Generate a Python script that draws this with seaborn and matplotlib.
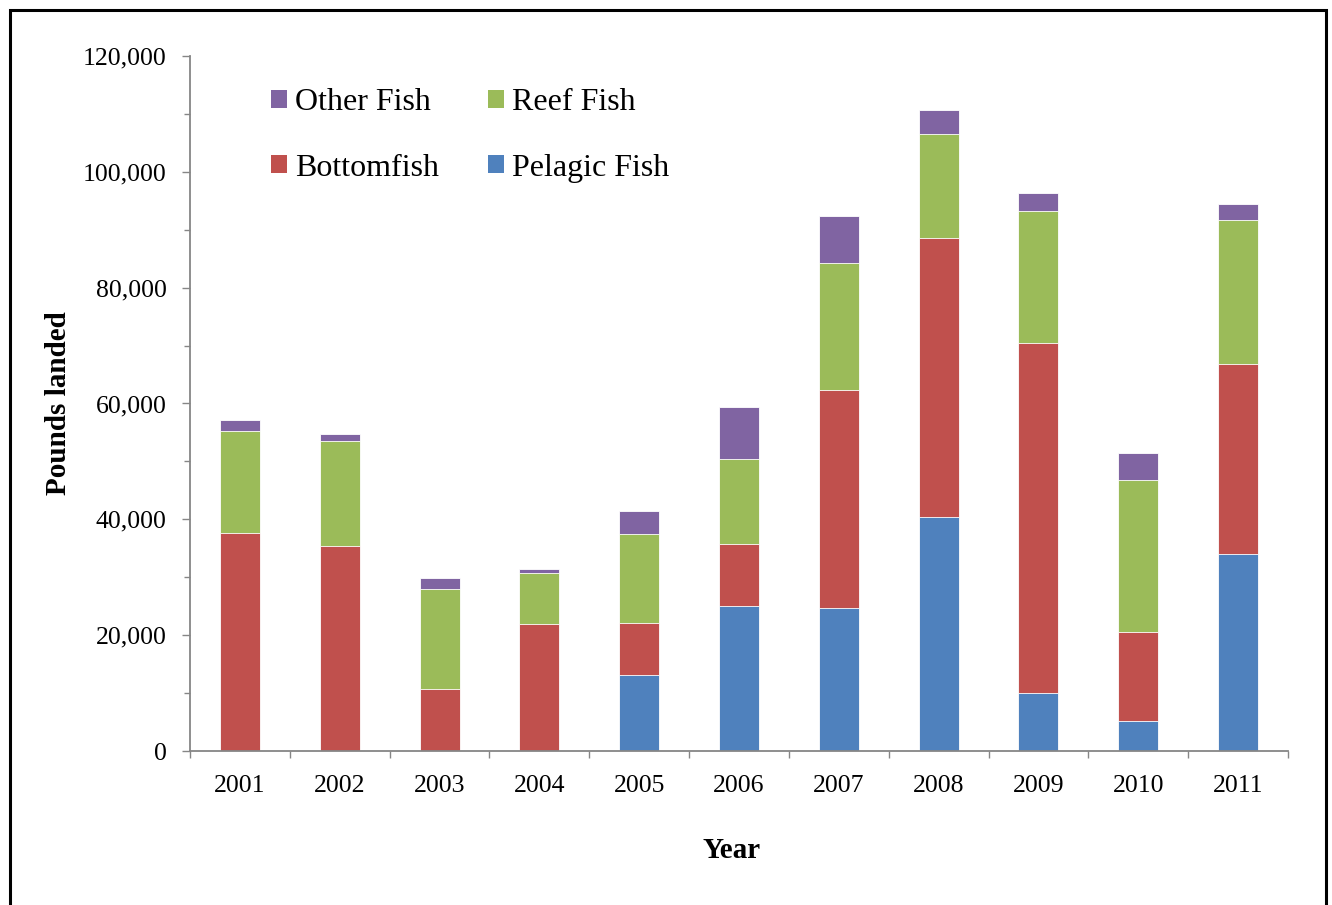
import numpy as np
import pandas as pd
import seaborn as sns
import matplotlib
matplotlib.use("Agg")
import matplotlib.pyplot as plt
from matplotlib.patches import Patch, Rectangle
from matplotlib.ticker import MultipleLocator, FuncFormatter, FixedLocator

# Pounds landed per year, by fish group
years = ["2001", "2002", "2003", "2004", "2005", "2006",
         "2007", "2008", "2009", "2010", "2011"]
pelagic_fish = [0, 0, 0, 0, 13050, 25100, 24700, 40400, 9950, 5200, 34000]
bottomfish = [37700, 35400, 10700, 21900, 9100, 10600, 37700, 48100, 60450, 15400, 32800]
reef_fish = [17500, 18200, 17300, 8800, 15400, 14800, 21900, 18100, 22900, 26200, 24800]
other_fish = [1900, 1100, 1900, 800, 3900, 8900, 8100, 4000, 3100, 4600, 2900]

groups = ["Pelagic Fish", "Bottomfish", "Reef Fish", "Other Fish"]
colors = {"Pelagic Fish": "#4F81BD", "Bottomfish": "#C0504D",
          "Reef Fish": "#9BBB59", "Other Fish": "#8064A2"}

df = pd.DataFrame({"Year": years, "Pelagic Fish": pelagic_fish,
                   "Bottomfish": bottomfish, "Reef Fish": reef_fish,
                   "Other Fish": other_fish})
# cumulative tops of each stacked segment
cum = df[groups].cumsum(axis=1)
cum["Year"] = df["Year"]

sns.set_style("white")
plt.rcParams["font.family"] = ["Liberation Serif", "DejaVu Serif"]
plt.rcParams["text.color"] = "black"
plt.rcParams["axes.labelcolor"] = "black"
plt.rcParams["xtick.labelcolor"] = "black"
plt.rcParams["ytick.labelcolor"] = "black"

fig = plt.figure(figsize=(13.32, 9.05), dpi=100)
ax = fig.add_axes([190 / 1332, 1 - 751 / 905, (1288 - 190) / 1332, (751 - 56) / 905])

# draw the tallest (top) segment first, then overlay lower segments
for g in reversed(groups):
    sns.barplot(data=cum, x="Year", y=g, color=colors[g], width=0.4,
                saturation=1, edgecolor="white", linewidth=0.6, ax=ax,
                errorbar=None)

ax.set_ylim(0, 120000)
ax.set_xlim(-0.5, len(years) - 0.5)

axis_gray = "#868686"
for side in ["top", "right"]:
    ax.spines[side].set_visible(False)
for side in ["left", "bottom"]:
    ax.spines[side].set_color(axis_gray)
    ax.spines[side].set_linewidth(1.3)

# y axis ticks
ax.yaxis.set_major_locator(MultipleLocator(20000))
ax.yaxis.set_minor_locator(MultipleLocator(10000))
ax.yaxis.set_major_formatter(FuncFormatter(lambda v, p: f"{int(v):,}"))
ax.tick_params(axis="y", which="major", direction="out", length=6, width=1,
               color=axis_gray, labelsize=18.5, pad=11, left=True,
               labelcolor="black")
ax.tick_params(axis="y", which="minor", direction="out", length=4, width=1,
               color=axis_gray, left=True)

# x axis: tick marks at category boundaries, labels at category centres
n = len(years)
ax.xaxis.set_major_locator(FixedLocator(np.arange(-0.5, n, 1.0)))
ax.xaxis.set_minor_locator(FixedLocator(np.arange(n)))
ax.set_xticklabels([], minor=False)
ax.set_xticks(np.arange(n), labels=years, minor=True)
ax.tick_params(axis="x", which="major", direction="out", length=5, width=1,
               color=axis_gray, bottom=True)
ax.tick_params(axis="x", which="minor", length=0, labelsize=18.5, pad=17,
               labelcolor="black")

ax.set_xlabel("Year", fontsize=21, fontweight="bold", color="black")
ax.set_ylabel("Pounds landed", fontsize=21, fontweight="bold", color="black")
ax.xaxis.label.set_va("center")
ax.yaxis.label.set_va("center")
ax.xaxis.set_label_coords((732 - 190) / 1098, -99 / 695)
ax.yaxis.set_label_coords((58 - 190) / 1098, 0.5)

# legend: two columns, Other/Bottomfish left, Reef/Pelagic right
order = ["Other Fish", "Bottomfish", "Reef Fish", "Pelagic Fish"]
handles = [Patch(facecolor=colors[g], edgecolor="none", label=g) for g in order]
leg = ax.legend(handles=handles, ncol=2, loc="upper left",
                bbox_to_anchor=(271 / 1332, 1 - 88 / 905), bbox_transform=fig.transFigure,
                frameon=False, fontsize=23, handlelength=0.5, handleheight=0.5,
                handletextpad=0.25, columnspacing=1.55, labelspacing=1.15, borderpad=0,
                borderaxespad=0)
for t in leg.get_texts():
    t.set_color("black")

# outer frame around the chart area
fig.patches.append(Rectangle((9.5 / 1332, -0.05), (1325.5 - 9.5) / 1332, 1.05 - 10.5 / 905,
                             transform=fig.transFigure, fill=False,
                             edgecolor="black", linewidth=2.2))

fig.savefig("out.png", dpi=100)
